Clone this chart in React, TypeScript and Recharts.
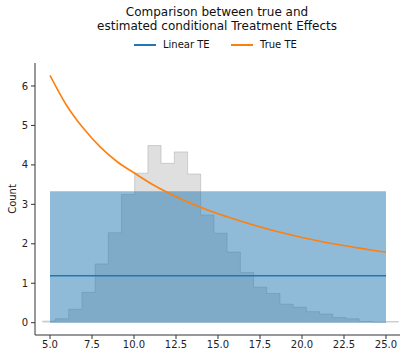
import React from 'react';
import { ComposedChart, Area, Line, XAxis, YAxis } from 'recharts';

// Histogram (grey) of the feature: bin edges and heights
const binEdges = [4.54, 5.33, 6.11, 6.9, 7.69, 8.47, 9.26, 10.04, 10.83, 11.61, 12.4, 13.19, 13.97, 14.76, 15.54, 16.33, 17.12, 17.9, 18.69, 19.47, 20.26, 21.05, 21.83, 22.62, 23.4, 24.19, 24.98, 25.76];
const binCounts = [0.04, 0.1, 0.34, 0.77, 1.49, 2.28, 3.25, 3.79, 4.49, 4.04, 4.33, 3.77, 2.73, 2.27, 1.79, 1.27, 0.9, 0.74, 0.47, 0.39, 0.28, 0.22, 0.13, 0.1, 0.03, 0.02, 0.03];

// True TE curve
const trueTeX = [5, 6, 7, 8, 9, 10, 11, 12, 13, 14, 15, 16, 17, 18, 19, 20, 21, 22, 23, 24, 25];
const trueTeY = [6.27, 5.5, 4.92, 4.45, 4.08, 3.8, 3.53, 3.3, 3.1, 2.92, 2.76, 2.62, 2.49, 2.37, 2.26, 2.16, 2.07, 1.99, 1.92, 1.85, 1.79];

// Linear TE estimate and its band
const linearTeX = [5, 25];
const linearTeY = [1.19, 1.19];
const bandX = [5, 25];
const bandUpper = [3.33, 3.33];

const xTicks = [5, 7.5, 10, 12.5, 15, 17.5, 20, 22.5, 25];
const yTicks = [0, 1, 2, 3, 4, 5, 6];

const FONT = '"DejaVu Sans", sans-serif';

type Row = { x: number; hist?: number; tte?: number; lte?: number; band?: number };
const rowMap = new Map<number, Row>();
const put = (x: number, key: keyof Row, v: number) => {
  const r: Row = rowMap.get(x) ?? { x };
  (r as any)[key] = v;
  rowMap.set(x, r);
};
binEdges.forEach((e, i) => put(e, 'hist', binCounts[Math.min(i, binCounts.length - 1)]));
trueTeX.forEach((x, i) => put(x, 'tte', trueTeY[i]));
linearTeX.forEach((x, i) => put(x, 'lte', linearTeY[i]));
bandX.forEach((x, i) => put(x, 'band', bandUpper[i]));
const rows = Array.from(rowMap.values()).sort((a, b) => a.x - b.x);

const CountLabel = (props: any) => {
  const vb = props.viewBox || { x: 0, y: 0, width: 35, height: 272 };
  const cx = vb.x + 12.5;
  const cy = vb.y + vb.height / 2;
  return (
    <text x={cx} y={cy} transform={`rotate(-90, ${cx}, ${cy})`} textAnchor="middle" dominantBaseline="central" fontSize={10} fontFamily={FONT} fill="#222">
      Count
    </text>
  );
};

export default function App() {
  return (
    <div style={{ position: 'absolute', left: 0, top: 0, width: 407, height: 360, background: '#fff', fontFamily: FONT }}>
      <div style={{ position: 'absolute', left: 67, width: 300, top: 6, textAlign: 'center', fontSize: 12, lineHeight: '13.5px', color: '#111' }}>
        Comparison between true and
        <br />
        estimated conditional Treatment Effects
      </div>
      <div style={{ position: 'absolute', left: 134, top: 44, width: 22, height: 2, background: '#1f77b4' }} />
      <div style={{ position: 'absolute', left: 163, top: 38, fontSize: 10, lineHeight: '14px', color: '#111' }}>Linear TE</div>
      <div style={{ position: 'absolute', left: 231, top: 44, width: 22, height: 2, background: '#ff7f0e' }} />
      <div style={{ position: 'absolute', left: 260, top: 38, fontSize: 10, lineHeight: '14px', color: '#111' }}>True TE</div>
      <div style={{ position: 'absolute', left: 0, top: 0 }}>
        <ComposedChart width={407} height={360} data={rows} margin={{ top: 63, right: 7, bottom: 0, left: 0 }}>
          <XAxis
            type="number"
            dataKey="x"
            domain={[4.107, 25.833]}
            ticks={xTicks}
            interval={0}
            allowDataOverflow
            height={25}
            tickSize={4}
            tickMargin={2}
            tickFormatter={(v: number) => v.toFixed(1)}
            axisLine={{ stroke: '#333', strokeWidth: 1 }}
            tickLine={{ stroke: '#333' }}
            tick={{ fill: '#222', fontSize: 10, fontFamily: FONT }}
          />
          <YAxis
            type="number"
            domain={[-0.312, 6.583]}
            ticks={yTicks}
            interval={0}
            allowDataOverflow
            width={35}
            tickSize={4}
            tickMargin={3}
            axisLine={{ stroke: '#333', strokeWidth: 1 }}
            tickLine={{ stroke: '#333' }}
            tick={{ fill: '#222', fontSize: 10, fontFamily: FONT }}
            label={<CountLabel />}
          />
          <Area
            dataKey="hist"
            type="stepAfter"
            connectNulls
            fill="#808080"
            fillOpacity={0.25}
            stroke="#808080"
            strokeOpacity={0.3}
            strokeWidth={1}
            dot={false}
            activeDot={false}
            isAnimationActive={false}
          />
          <Area
            dataKey="band"
            type="linear"
            connectNulls
            fill="#1f77b4"
            fillOpacity={0.5}
            stroke="none"
            dot={false}
            activeDot={false}
            isAnimationActive={false}
          />
          <Line
            dataKey="lte"
            type="linear"
            connectNulls
            stroke="#1f77b4"
            strokeWidth={1.6}
            dot={false}
            activeDot={false}
            isAnimationActive={false}
          />
          <Line
            dataKey="tte"
            type="monotone"
            connectNulls
            stroke="#ff7f0e"
            strokeWidth={1.6}
            dot={false}
            activeDot={false}
            isAnimationActive={false}
          />
        </ComposedChart>
      </div>
    </div>
  );
}
